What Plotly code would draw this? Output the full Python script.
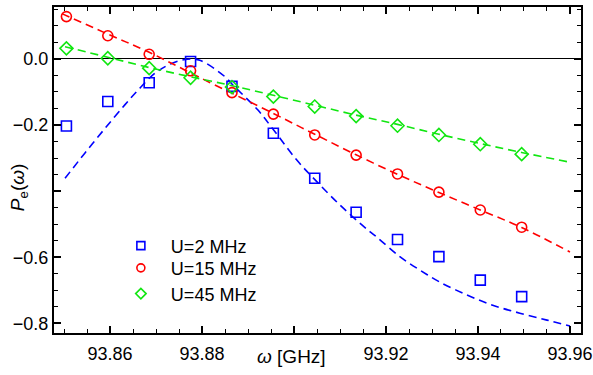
import plotly.graph_objects as go

# measured frequencies (GHz)
omega = [93.8505, 93.8595, 93.8685, 93.8775, 93.8865, 93.8955,
         93.9045, 93.9135, 93.9225, 93.9315, 93.9405, 93.9495]
pe_u2 = [-0.203, -0.129, -0.072, -0.008, -0.083, -0.225,
         -0.361, -0.464, -0.546, -0.598, -0.669, -0.719]
pe_u15 = [0.128, 0.070, 0.014, -0.036, -0.102, -0.167,
          -0.230, -0.291, -0.348, -0.403, -0.457, -0.509]
pe_u45 = [0.032, 0.002, -0.028, -0.057, -0.085, -0.114,
          -0.144, -0.173, -0.202, -0.230, -0.258, -0.288]

# fitted curves
fit_u2_x = [93.8502, 93.8545, 93.8589, 93.8632, 93.8661, 93.8698, 93.8735,
            93.8769, 93.8795, 93.8850, 93.8867, 93.8921, 93.8954, 93.9006,
            93.9050, 93.9100, 93.9150, 93.9180, 93.9230, 93.9274, 93.9317,
            93.9376, 93.9432, 93.9491, 93.9550, 93.9600]
fit_u2_y = [-0.361, -0.285, -0.210, -0.139, -0.094, -0.043, -0.013,
            -0.001, -0.004, -0.054, -0.079, -0.154, -0.212, -0.306,
            -0.372, -0.442, -0.505, -0.539, -0.598, -0.639, -0.675,
            -0.714, -0.745, -0.769, -0.790, -0.808]
fit_u15_x = [93.8495, 93.8595, 93.8685, 93.8793, 93.8955, 93.9045,
             93.9135, 93.9228, 93.9315, 93.9405, 93.9495, 93.9600]
fit_u15_y = [0.137, 0.075, 0.020, -0.055, -0.165, -0.228,
             -0.290, -0.351, -0.404, -0.457, -0.510, -0.584]
fit_u45_x = [93.8502, 93.8595, 93.8685, 93.8775, 93.8865, 93.8955, 93.9045,
             93.9135, 93.9225, 93.9315, 93.9405, 93.9495, 93.9595]
fit_u45_y = [0.037, 0.005, -0.026, -0.054, -0.081, -0.110, -0.140,
             -0.170, -0.198, -0.228, -0.256, -0.283, -0.311]

x_ticks = [93.86, 93.88, 93.90, 93.92, 93.94, 93.96]
x_labels = ["93.86", "93.88", "", "93.92", "93.94", "93.96"]
y_ticks = [0.0, -0.2, -0.4, -0.6, -0.8]
y_labels = ["0.0", "\u22120.2", "", "\u22120.6", "\u22120.8"]

series = [
    ("U=2 MHz", pe_u2, fit_u2_x, fit_u2_y, "#0000ff", "square-open", "legend"),
    ("U=15 MHz", pe_u15, fit_u15_x, fit_u15_y, "#ff0000", "circle-open", "legend2"),
    ("U=45 MHz", pe_u45, fit_u45_x, fit_u45_y, "#11e611", "diamond-open", "legend3"),
]

fig = go.Figure()
for name, ys, fx, fy, col, sym, lg in series:
    fig.add_trace(go.Scatter(x=fx, y=fy, mode="lines", line_shape="spline",
                             line=dict(color=col, width=1.6, dash="8px,5px"),
                             showlegend=False, hoverinfo="skip"))
for name, ys, fx, fy, col, sym, lg in series:
    fig.add_trace(go.Scatter(x=omega, y=ys, mode="markers",
                             marker=dict(symbol=sym, size=10, color=col,
                                         line=dict(color=col, width=1.6)),
                             showlegend=False))
    fig.add_trace(go.Scatter(x=[None], y=[None], mode="markers", name="\u00a0" + name, legend=lg,
                             marker=dict(symbol=sym, size=8, color=col,
                                         line=dict(color=col, width=1.6))))

FONT = "Liberation Sans, Arial"
axis_common = dict(showline=True, linecolor="black", linewidth=2, mirror="ticks",
                   ticks="inside", tickcolor="black", tickwidth=1.5, ticklen=7,
                   showgrid=False, automargin=False,
                   tickfont=dict(family=FONT, size=18, color="black"))

fig.update_xaxes(range=[93.8478, 93.9624], tickvals=x_ticks, ticktext=x_labels,
                 ticklabelstandoff=3,
                 minor=dict(ticks="inside", ticklen=4, tickwidth=1.2, tickcolor="black", dtick=0.005, tick0=93.86),
                 zeroline=False, **axis_common)
fig.update_yaxes(range=[-0.829, 0.157], tickvals=y_ticks, ticktext=y_labels,
                 minor=dict(ticks="inside", ticklen=4, tickwidth=1.2, tickcolor="black", dtick=0.05, tick0=0),
                 zeroline=True, zerolinecolor="black", zerolinewidth=1.2, **axis_common)

fig.add_annotation(text="<i>ω</i> [GHz]", xref="paper", yref="paper", x=0.4516, y=-0.0706,
                   xanchor="center", yanchor="middle", showarrow=False,
                   font=dict(family=FONT, size=19, color="black"))
fig.add_annotation(text="<i>P</i><sub>e</sub>(<i>ω</i>)", xref="paper", yref="paper", x=-0.066, y=0.448,
                   xanchor="center", yanchor="middle", showarrow=False, textangle=-90,
                   font=dict(family=FONT, size=19, color="black"))

leg_common = dict(x=0.1174, xanchor="left", yanchor="middle", bgcolor="rgba(0,0,0,0)",
                  font=dict(family=FONT, size=18, color="black"), itemwidth=40)
fig.update_layout(
    width=593, height=375,
    margin=dict(l=54, r=12, t=7, b=42, autoexpand=False),
    plot_bgcolor="white", paper_bgcolor="white",
    legend=dict(y=0.267, **leg_common),
    legend2=dict(y=0.199, **leg_common),
    legend3=dict(y=0.120, **leg_common),
)

fig.write_html("out.html", config={"displayModeBar": False},
               post_script="document.body.style.margin='0';")
